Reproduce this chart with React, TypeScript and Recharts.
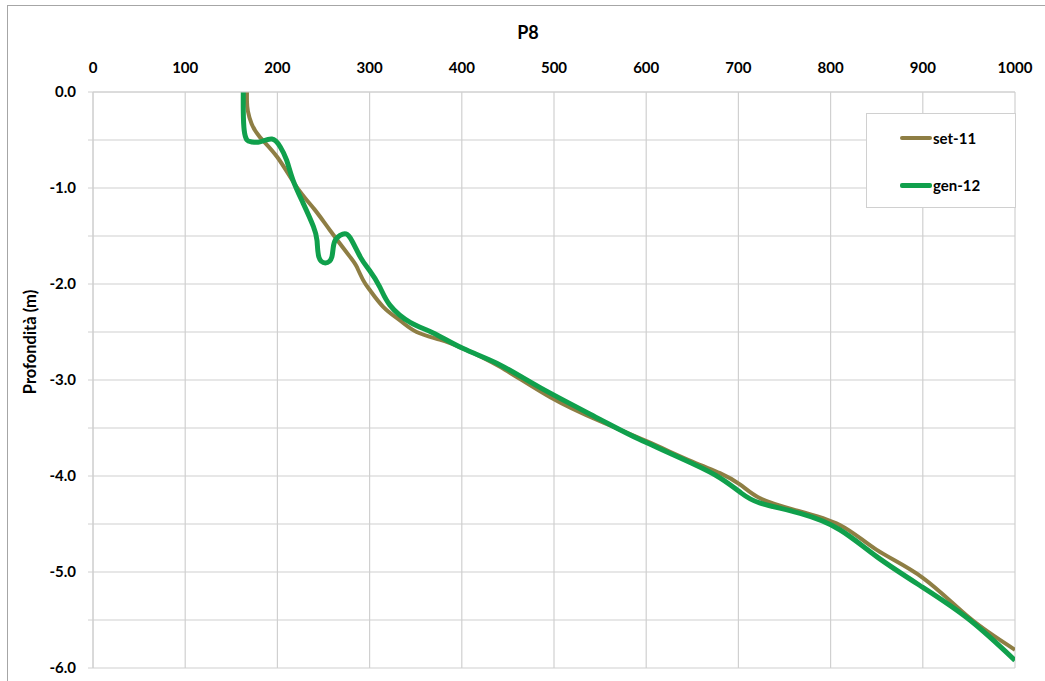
import React from 'react';
import { LineChart, Line, XAxis, YAxis, CartesianGrid } from 'recharts';

// values (x = value, y = depth in m)
const set11X = [167, 167, 168, 172, 181, 200, 221, 240, 257, 279, 286, 293, 300, 315, 333, 351, 376, 401, 441, 496, 550, 601, 650, 680, 702, 723, 760, 810, 850, 900, 951, 1000];
const set11Y = [0, -0.1, -0.2, -0.33, -0.47, -0.68, -0.99, -1.22, -1.44, -1.72, -1.82, -1.96, -2.06, -2.24, -2.38, -2.5, -2.58, -2.67, -2.86, -3.18, -3.43, -3.64, -3.85, -3.97, -4.09, -4.23, -4.35, -4.51, -4.77, -5.06, -5.48, -5.81];

const gen12X = [163, 163, 164, 167, 172, 181, 194, 203, 210, 217, 228, 239, 243, 245, 252, 259, 262, 271, 279, 290, 300, 311, 322, 344, 369, 401, 441, 485, 550, 593, 650, 680, 702, 723, 767, 810, 850, 900, 951, 1000];
const gen12Y = [0, -0.2, -0.4, -0.5, -0.52, -0.52, -0.49, -0.57, -0.71, -0.92, -1.16, -1.4, -1.55, -1.72, -1.78, -1.72, -1.56, -1.48, -1.52, -1.72, -1.86, -2.03, -2.22, -2.4, -2.51, -2.67, -2.84, -3.08, -3.41, -3.62, -3.87, -4.02, -4.17, -4.28, -4.39, -4.56, -4.84, -5.16, -5.5, -5.92];

const xTicks = [0, 100, 200, 300, 400, 500, 600, 700, 800, 900, 1000];
const yTicks = [-6, -5.5, -5, -4.5, -4, -3.5, -3, -2.5, -2, -1.5, -1, -0.5, 0];

const colors = {
  set11: '#8e7e44',
  gen12: '#10a04c',
  grid: '#d0d0d0',
  text: '#000',
  border: '#a6a6a6',
};

const font = 'Lato, "Open Sans", sans-serif';

const set11Data = set11X.map((x, i) => ({ x, y: set11Y[i] }));
const gen12Data = gen12X.map((x, i) => ({ x, y: gen12Y[i] }));

const App: React.FC = () => {
  const tick = { fill: colors.text, fontSize: 15, fontWeight: 700, fontFamily: font };

  return (
    <div
      style={{
        position: 'absolute',
        left: 0,
        top: 0,
        width: 1045,
        height: 681,
        overflow: 'hidden',
        background: '#fff',
        fontFamily: font,
      }}
    >
      <div
        style={{
          position: 'absolute',
          left: 7,
          top: 5,
          width: 1100,
          height: 800,
          border: `1px solid ${colors.border}`,
        }}
      />
      <div
        style={{
          position: 'absolute',
          left: 428,
          width: 200,
          top: 21,
          textAlign: 'center',
          fontSize: 18,
          fontWeight: 700,
        }}
      >
        P8
      </div>
      <div
        style={{
          position: 'absolute',
          left: 30,
          top: 342,
          transform: 'translate(-50%, -50%) rotate(-90deg)',
          whiteSpace: 'nowrap',
          fontSize: 16.5,
          fontWeight: 700,
        }}
      >
        Profondità (m)
      </div>

      <div style={{ position: 'absolute', left: 0, top: 0 }}>
        <LineChart
          width={1045}
          height={681}
          margin={{ top: 50, right: 30, left: 0, bottom: 13 }}
        >
          <CartesianGrid stroke={colors.grid} strokeWidth={1.2} />
          <XAxis
            type="number"
            dataKey="x"
            orientation="top"
            domain={[0, 1000]}
            ticks={xTicks}
            allowDataOverflow
            height={42}
            tick={tick}
            tickLine={false}
            tickSize={0}
            tickMargin={19}
            axisLine={{ stroke: colors.grid }}
          />
          <YAxis
            type="number"
            dataKey="y"
            domain={[-6, 0]}
            ticks={yTicks}
            allowDataOverflow
            width={93}
            tick={tick}
            tickFormatter={(v: number) => (Number.isInteger(v) ? v.toFixed(1) : '')}
            tickLine={{ stroke: colors.grid }}
            tickSize={5}
            tickMargin={12}
            axisLine={{ stroke: colors.grid }}
          />
          <Line
            data={set11Data}
            dataKey="y"
            name="set-11"
            type="natural"
            stroke={colors.set11}
            strokeWidth={4}
            dot={false}
            isAnimationActive={false}
          />
          <Line
            data={gen12Data}
            dataKey="y"
            name="gen-12"
            type="natural"
            stroke={colors.gen12}
            strokeWidth={5}
            dot={false}
            isAnimationActive={false}
          />
        </LineChart>
      </div>

      <div
        style={{
          position: 'absolute',
          left: 866,
          top: 113,
          width: 150,
          height: 95,
          boxSizing: 'border-box',
          border: `1px solid ${colors.grid}`,
          background: '#fff',
          fontSize: 15,
          fontWeight: 700,
        }}
      >
        {[
          { name: 'set-11', color: colors.set11, w: 4, top: 24 },
          { name: 'gen-12', color: colors.gen12, w: 5, top: 71 },
        ].map((item) => (
          <div
            key={item.name}
            style={{ position: 'absolute', left: 33, top: item.top - 10, height: 20, display: 'flex', alignItems: 'center' }}
          >
            <span style={{ display: 'inline-block', width: 32, height: item.w, background: item.color, borderRadius: 2 }} />
            <span style={{ marginLeft: 1 }}>{item.name}</span>
          </div>
        ))}
      </div>
    </div>
  );
};

export default App;
